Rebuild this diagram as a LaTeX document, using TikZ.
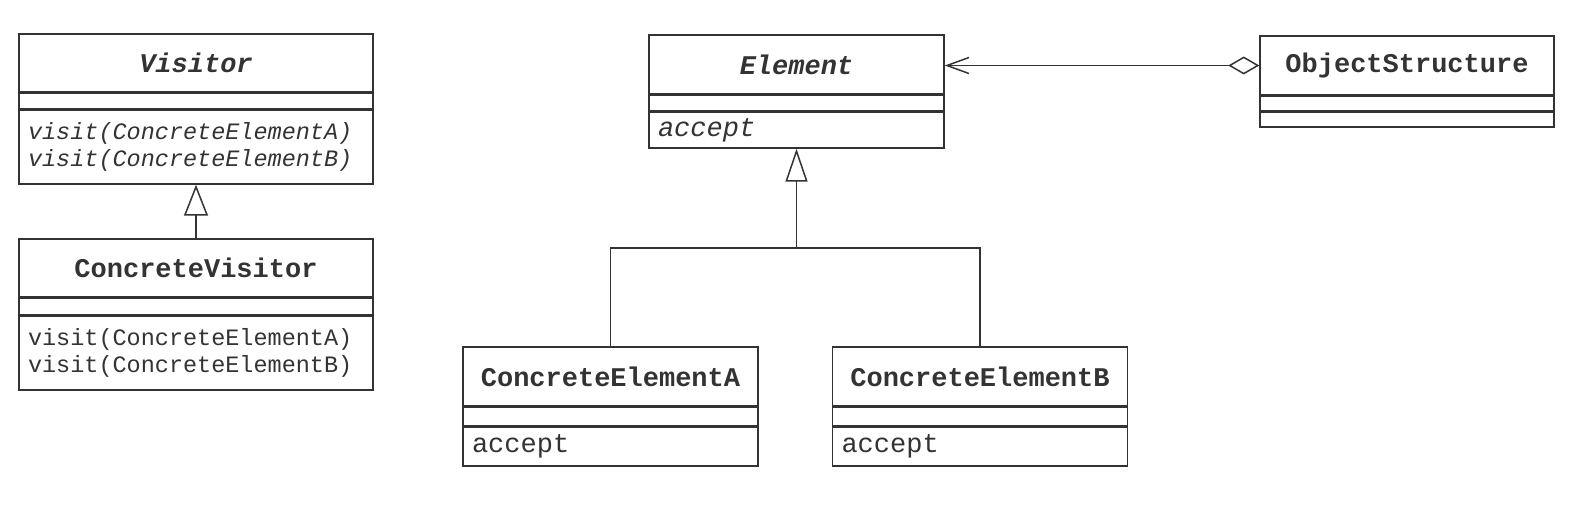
\documentclass[tikz,border=0pt]{standalone}
\usepackage{fontspec}
\setmonofont{Liberation Mono}
\usetikzlibrary{positioning,arrows.meta}

\begin{document}
\begin{tikzpicture}[x=1pt, y=-1pt, line width=1.5pt, color=black!80,
    classname/.style={draw, inner sep=0pt, minimum height=59pt, font=\fontsize{27}{30}\selectfont\ttfamily\bfseries},
    absname/.style={classname, font=\fontsize{27}{30}\selectfont\ttfamily\bfseries\itshape},
    classrow/.style={draw, inner ysep=0pt, inner xsep=9pt, align=left, font=\fontsize{27}{30}\selectfont\ttfamily},
    visitrow/.style={classrow, font=\fontsize{23.5}{27}\selectfont\ttfamily}]
    % Visitor pattern class diagram
    \useasboundingbox (0,0) rectangle (1575,505);

    \node[absname, minimum width=354pt, minimum height=58pt] (vis) at (196,63) {Visitor};
    \node[classrow, below=0pt of vis, text width=336pt, minimum height=15pt] (visatt) {};
    \node[visitrow, below=0pt of visatt, text width=336pt, minimum height=74pt, font=\fontsize{23.5}{27}\selectfont\ttfamily\itshape] (visops) {visit(ConcreteElementA)\\visit(ConcreteElementB)};

    \node[classname, minimum width=354pt, minimum height=58pt] (cvis) at (196,268) {ConcreteVisitor};
    \node[classrow, below=0pt of cvis, text width=336pt, minimum height=16pt] (cvisatt) {};
    \node[visitrow, below=0pt of cvisatt, text width=336pt, minimum height=74pt] (cvisops) {visit(ConcreteElementA)\\visit(ConcreteElementB)};

    \node[absname, minimum width=295pt] (el) at (796.5,64.5) {Element};
    \node[classrow, below=0pt of el, text width=277pt, minimum height=15pt] (elatt) {};
    \node[classrow, below=0pt of elatt, text width=277pt, minimum height=36pt, font=\fontsize{27}{30}\selectfont\ttfamily\itshape] (elops) {accept};

    \node[classname, minimum width=294pt] (os) at (1407,65.5) {ObjectStructure};
    \node[classrow, below=0pt of os, text width=276pt, minimum height=14pt] (osatt) {};
    \node[classrow, below=0pt of osatt, text width=276pt, minimum height=15pt] (osops) {};

    \node[classname, minimum width=295pt] (cea) at (610.5,376.5) {ConcreteElementA};
    \node[classrow, below=0pt of cea, text width=277pt, minimum height=18pt] (ceaatt) {};
    \node[classrow, below=0pt of ceaatt, text width=277pt, minimum height=39pt] (ceaops) {accept};

    \node[classname, minimum width=295pt] (ceb) at (980,376.5) {ConcreteElementB};
    \node[classrow, below=0pt of ceb, text width=277pt, minimum height=18pt] (cebatt) {};
    \node[classrow, below=0pt of cebatt, text width=277pt, minimum height=39pt] (cebops) {accept};

    \coordinate (bus) at (796.5,248);

    \draw[-{Triangle[open, length=31pt, width=24pt]}] (cvis.north) -- (visops.south);
    \draw[-{Triangle[open, length=33pt, width=22pt]}] (bus) -- (elops.south);
    \draw (cea.north) |- (bus) -| (ceb.north);
    \draw[{Diamond[open, length=31pt, width=18pt]}-{Straight Barb[length=22pt, width=16pt]}] (os.west) -- (os.west -| el.east);
\end{tikzpicture}
\end{document}
